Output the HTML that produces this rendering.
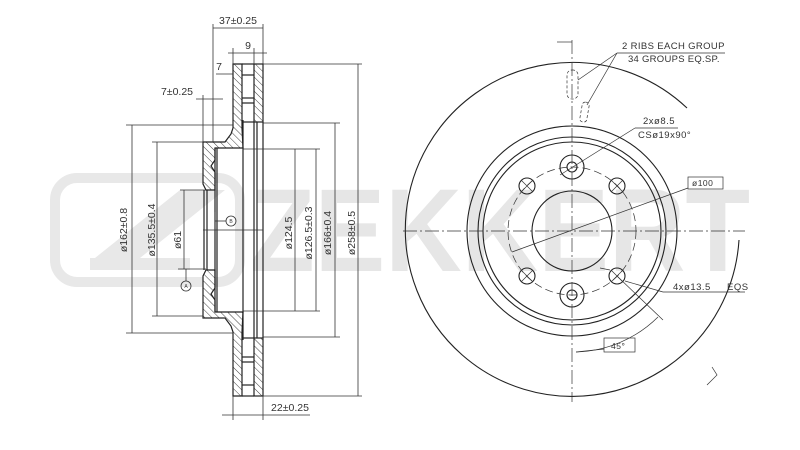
<!DOCTYPE html>
<html><head><meta charset="utf-8"><style>
html,body{margin:0;padding:0;background:#fff;}
svg{display:block}
text{font-family:"Liberation Sans",sans-serif;fill:#333;}
</style></head><body>
<svg width="800" height="450" viewBox="0 0 800 450" xmlns="http://www.w3.org/2000/svg">
<defs>
<pattern id="h" patternUnits="userSpaceOnUse" width="5" height="5" patternTransform="rotate(-45)">
<rect width="5" height="5" fill="#fff"/><line x1="0" y1="0" x2="0" y2="5" stroke="#444" stroke-width="1"/>
</pattern>
</defs>
<!-- watermark -->
<g fill="none" stroke="#e8e8e8" stroke-width="10">
<rect x="55" y="178" width="185" height="104" rx="22"/>
</g>
<polygon points="90,262 180,190 225,190 135,262" fill="#e8e8e8"/>
<rect x="90" y="258" width="100" height="12" fill="#e8e8e8"/>
<text x="250" y="271" font-size="118" font-weight="bold" textLength="500" lengthAdjust="spacingAndGlyphs" style="fill:#e6e6e6">ZEKKERT</text>

<!-- LEFT SECTION -->
<g stroke="#222" stroke-width="1.2">
<polygon fill="url(#h)" points="233,64 242,64 242,128 243,148 215,148 215,160 211,166 215,172 215,190 206,190 203,184 203,142 225,142 231,134 233,128"/>
<polygon fill="url(#h)" points="233,396 242,396 242,332 243,312 215,312 215,300 211,294 215,288 215,270 206,270 203,276 203,318 225,318 231,326 233,332"/>
<rect x="254" y="64" width="9" height="58" fill="url(#h)"/>
<rect x="254" y="338" width="9" height="58" fill="url(#h)"/>
<line x1="242" y1="64" x2="254" y2="64"/><line x1="242" y1="396" x2="254" y2="396"/>
<line x1="242" y1="75" x2="254" y2="75"/><line x1="242" y1="98" x2="254" y2="98"/><line x1="242" y1="103" x2="254" y2="103"/>
<line x1="242" y1="385" x2="254" y2="385"/><line x1="242" y1="362" x2="254" y2="362"/><line x1="242" y1="357" x2="254" y2="357"/>
<line x1="243" y1="120" x2="243" y2="340"/><line x1="254" y1="122" x2="254" y2="338"/><line x1="257" y1="122" x2="257" y2="338"/><line x1="263" y1="122" x2="263" y2="338"/>
<line x1="243" y1="122" x2="254" y2="122"/><line x1="243" y1="338" x2="254" y2="338"/>
<line x1="204" y1="190" x2="204" y2="270"/><line x1="207" y1="190" x2="207" y2="270"/><line x1="215" y1="148" x2="215" y2="312"/><line x1="217" y1="148" x2="217" y2="312"/>
</g>
<g stroke="#333" stroke-width="0.8" fill="none">
<line x1="213" y1="24" x2="213" y2="142"/><line x1="263" y1="24" x2="263" y2="64"/>
<line x1="233" y1="48" x2="233" y2="64"/><line x1="254" y1="48" x2="254" y2="64"/>
<line x1="203" y1="95" x2="203" y2="142"/>
<line x1="233" y1="396" x2="233" y2="420"/><line x1="263" y1="396" x2="263" y2="420"/>
<line x1="263" y1="64" x2="362" y2="64"/><line x1="263" y1="396" x2="362" y2="396"/>
<line x1="263" y1="123" x2="340" y2="123"/><line x1="263" y1="337" x2="340" y2="337"/>
<line x1="243" y1="149" x2="320" y2="149"/><line x1="243" y1="311" x2="320" y2="311"/>
<line x1="126" y1="125" x2="233" y2="125"/><line x1="126" y1="333" x2="233" y2="333"/>
<line x1="152" y1="142" x2="203" y2="142"/><line x1="152" y1="316" x2="203" y2="316"/>
<line x1="180" y1="190" x2="206" y2="190"/><line x1="178" y1="269" x2="206" y2="269"/>
<line x1="203" y1="230" x2="263" y2="230"/>
<line x1="213" y1="28" x2="263" y2="28"/>
<line x1="228" y1="53" x2="267" y2="53"/>
<line x1="216" y1="74" x2="233" y2="74"/>
<line x1="196" y1="99" x2="223" y2="99"/>
<line x1="222" y1="415" x2="310" y2="415"/>
<line x1="132" y1="125" x2="132" y2="333"/>
<line x1="157" y1="142" x2="157" y2="316"/>
<line x1="184" y1="190" x2="184" y2="269"/>
<line x1="295" y1="149" x2="295" y2="311"/>
<line x1="316" y1="149" x2="316" y2="311"/>
<line x1="335" y1="123" x2="335" y2="337"/>
<line x1="358" y1="64" x2="358" y2="396"/>
<line x1="215" y1="221" x2="226" y2="221"/><line x1="215" y1="212" x2="215" y2="230"/>
<circle cx="231" cy="221" r="5"/><circle cx="186" cy="286" r="5"/>
<line x1="186" y1="269" x2="186" y2="281"/>
</g>
<g font-size="5" text-anchor="middle"><text x="231" y="223">B</text><text x="186" y="288">A</text></g>
<g font-size="10.5" text-anchor="middle">
<text x="238" y="24">37±0.25</text>
<text x="248" y="49">9</text>
<text x="219" y="70">7</text>
<text x="177" y="95">7±0.25</text>
<text x="290" y="411">22±0.25</text>
<text transform="translate(127,230) rotate(-90)">ø162±0.8</text>
<text transform="translate(155,230) rotate(-90)">ø135.5±0.4</text>
<text transform="translate(181,240) rotate(-90)">ø61</text>
<text transform="translate(292,233) rotate(-90)">ø124.5</text>
<text transform="translate(312,233) rotate(-90)">ø126.5±0.3</text>
<text transform="translate(331,233) rotate(-90)">ø166±0.4</text>
<text transform="translate(355,233) rotate(-90)">ø258±0.5</text>
</g>

<!-- RIGHT DISC -->
<g stroke="#222" stroke-width="1.1" fill="none">
<path d="M687,108 A167,167 0 1 0 739,240"/>
<circle cx="572" cy="231" r="105"/>
<circle cx="572" cy="231" r="94"/>
<circle cx="572" cy="231" r="89"/>
<circle cx="572" cy="231" r="40"/>
<circle cx="572" cy="167" r="12"/><circle cx="572" cy="167" r="5"/>
<circle cx="572" cy="295" r="12"/><circle cx="572" cy="295" r="5"/>
<circle cx="527" cy="186" r="8"/><circle cx="617" cy="186" r="8"/>
<circle cx="527" cy="276" r="8"/><circle cx="617" cy="276" r="8"/>
</g>
<g stroke="#333" stroke-width="0.7" fill="none">
<circle cx="572" cy="231" r="64" stroke-dasharray="8,4"/>
<line x1="572" y1="40" x2="572" y2="402" stroke-dasharray="14,3,2,3"/>
<line x1="403" y1="231" x2="745" y2="231" stroke-dasharray="14,3,2,3"/>
<line x1="557" y1="42" x2="572" y2="42"/>
<path d="M521,180 l12,12 M533,180 l-12,12 M611,180 l12,12 M623,180 l-12,12 M521,270 l12,12 M533,270 l-12,12 M611,270 l12,12 M623,270 l-12,12"/>
<rect x="567" y="70" width="11" height="29" rx="5" stroke-dasharray="3,2"/>
<rect x="581" y="102" width="7" height="20" rx="3" stroke-dasharray="3,2" transform="rotate(10 584 112)"/>
<line x1="617" y1="53" x2="725" y2="53"/>
<line x1="617" y1="53" x2="578" y2="80"/><line x1="617" y1="53" x2="587" y2="105"/>
<line x1="635" y1="128" x2="678" y2="128"/><line x1="635" y1="128" x2="560" y2="175"/>
<rect x="688" y="177" width="35" height="12"/>
<line x1="688" y1="188" x2="512" y2="252"/>
<line x1="663" y1="292" x2="745" y2="292"/><line x1="663" y1="292" x2="625" y2="281"/>
<line x1="617" y1="276" x2="663" y2="320"/>
<path d="M576,352 A121,121 0 0 0 658,317"/>
<rect x="604" y="338" width="31" height="14"/>
<line x1="576" y1="352" x2="604" y2="349"/>
<line x1="600" y1="268" x2="610" y2="270"/>
<path d="M712,367 L717,375 L707,385"/>
</g>
<g font-size="9.5" text-anchor="start" letter-spacing="0.5">
<text x="622" y="49" textLength="103">2 RIBS EACH GROUP</text>
<text x="628" y="62" textLength="92">34 GROUPS EQ.SP.</text>
<text x="643" y="124">2xø8.5</text>
<text x="638" y="138">CSø19x90°</text>
<text x="692" y="186" font-size="8.5">ø100</text>
<text x="673" y="290">4xø13.5</text>
<text x="727" y="290">EQS</text>
<text x="611" y="349" font-size="8.5">45°</text>
</g>
</svg>
</body></html>
